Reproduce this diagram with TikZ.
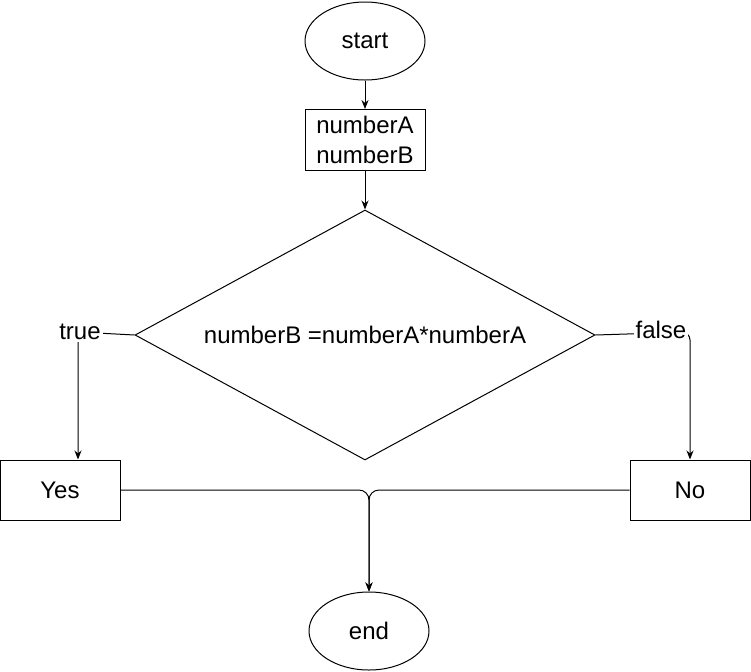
\documentclass[tikz,border=0pt]{standalone}
\usepackage{fontspec}
\setmainfont{Liberation Sans}
\usetikzlibrary{shapes.geometric, arrows.meta, positioning}

\begin{document}
\begin{tikzpicture}[
  x=0.5pt, y=-0.5pt,
  term/.style={
    ellipse, draw, line width=0.5pt,
    minimum width=60pt, minimum height=39pt,
    font=\fontsize{12}{15}\selectfont
  },
  proc/.style={
    rectangle, draw, line width=0.5pt,
    minimum width=60pt, minimum height=30pt,
    font=\fontsize{12}{15}\selectfont, align=center
  },
  cond/.style={
    diamond, draw, line width=0.5pt, inner sep=0pt, aspect=1.84,
    minimum width=230pt, minimum height=125pt,
    font=\fontsize{12}{15}\selectfont
  },
  lbl/.style={fill=white, inner sep=1pt, font=\fontsize{12}{15}\selectfont},
  arr/.style={-{Stealth[length=4.5pt, width=3.5pt]}, line width=0.5pt}
]
  \useasboundingbox (0,0) rectangle (751,671);

  \node[term] (start) at (365,41) {start};
  \node[proc] (input) at (365,140) {numberA\\numberB};
  \node[cond] (check) at (365,335) {numberB =numberA*numberA};
  \node[proc] (yes) at (60,490) {Yes};
  \node[proc] (no) at (690,490) {No};
  \node[term] (stop) at (369,631) {end};

  \coordinate (tcorner) at (78,332);
  \coordinate (fcorner) at (690,332);
  \coordinate (merge) at (369,490);

  \draw[arr] (start) -- (input);
  \draw[arr] (input) -- (check);
  \draw[arr] (check.west) -- (tcorner) -- (tcorner |- yes.north);
  \draw[arr, rounded corners=4] (check.east) -- (fcorner) -- (no.north);
  \draw[arr, rounded corners=5] (yes.east) -- (merge) -- (stop.north);
  \draw[arr, rounded corners=5] (no.west) -- (merge) -- (stop.north);

  \node[lbl] (ttrue) at (80,332) {true};
  \node[lbl] (tfalse) at (661,330) {false};
\end{tikzpicture}
\end{document}
